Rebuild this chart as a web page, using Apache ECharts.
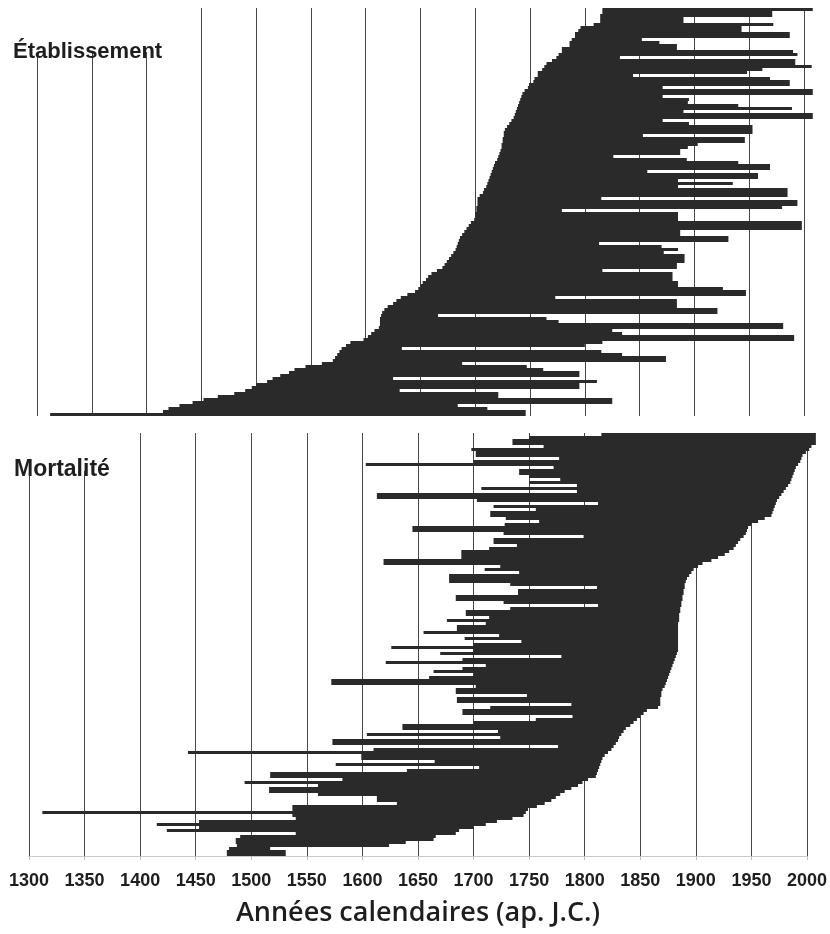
<!DOCTYPE html>
<html><head><meta charset="utf-8">
<script src="https://cdn.jsdelivr.net/npm/echarts@6/dist/echarts.min.js"></script>
<style>html,body{margin:0;padding:0;background:#fff}#c{width:830px;height:934px}</style>
</head><body><div id="c"></div>
<script>
// Tick labels (years)
const yearTicks = [1300,1350,1400,1450,1500,1550,1600,1650,1700,1750,1800,1850,1900,1950,2000];
const panelTitles = ['Établissement', 'Mortalité'];
const axisTitle = 'Années calendaires (ap. J.C.)';

// Établissement panel: one row per tree, top to bottom (sorted by establishment year)
const estStart = [
1816,1816,1814,1814,1814,1808,1796,1794,1791,1791,
1788,1786,1786,1779,1779,1776,1774,1770,1765,1763,
1761,1757,1757,1754,1753,1749,1748,1745,1743,1742,
1741,1740,1739,1738,1737,1736,1735,1733,1731,1729,
1727,1726,1726,1725,1725,1724,1724,1723,1722,1721,
1720,1718,1717,1716,1715,1714,1713,1712,1711,1710,
1708,1707,1704,1702,1702,1702,1701,1701,1700,1700,
1699,1696,1694,1692,1690,1688,1686,1685,1684,1683,
1682,1680,1678,1676,1674,1672,1670,1665,1660,1657,
1655,1652,1650,1648,1645,1638,1632,1628,1625,1620,
1617,1615,1614,1613,1613,1613,1612,1608,1605,1602,
1598,1586,1582,1578,1576,1574,1572,1570,1560,1545,
1535,1530,1522,1515,1510,1500,1496,1490,1480,1465,
1452,1442,1430,1420,1415,1312];
const estEnd = [
2008,1971,1971,1890,1890,1972,1943,1943,1987,1987,
1852,1868,1884,1884,1990,1994,1832,1992,1992,2007,
1962,1948,1844,1969,1987,1987,1871,2008,2008,1871,
1895,1894,1940,1989,1890,2008,2008,1871,1895,1953,
1953,1953,1853,1946,1946,1903,1894,1887,1887,1826,
1893,1940,1969,1969,1857,1958,1958,1885,1935,1885,
1985,1985,1985,1815,1994,1994,1980,1779,1885,1885,
1885,1998,1998,1998,1887,1887,1931,1931,1813,1870,
1885,1872,1891,1891,1891,1884,1884,1816,1880,1880,
1880,1885,1885,1926,1947,1947,1773,1884,1884,1884,
1921,1921,1666,1765,1776,1981,1981,1825,1834,1991,
1991,1816,1800,1633,1815,1834,1874,1874,1688,1747,
1762,1795,1795,1625,1811,1795,1795,1631,1721,1721,
1825,1825,1684,1711,1746,1746];

// Mortalité panel: one row per tree, top to bottom (sorted by death year)
const morStart = [
1815,1750,1735,1735,1763,1698,1702,1702,1777,1700,
1603,1772,1741,1741,1750,1778,1750,1793,1707,1793,
1613,1613,1703,1812,1718,1756,1715,1715,1729,1759,
1728,1645,1645,1727,1799,1718,1718,1739,1714,1689,
1689,1689,1619,1619,1724,1710,1741,1678,1678,1678,
1733,1811,1740,1740,1684,1684,1727,1812,1733,1693,
1693,1714,1676,1711,1685,1685,1655,1723,1692,1743,
1700,1626,1700,1670,1779,1690,1621,1711,1690,1664,
1700,1660,1572,1572,1702,1684,1684,1748,1685,1685,
1788,1715,1690,1690,1789,1756,1700,1636,1636,1722,
1604,1724,1573,1573,1776,1610,1443,1599,1599,1665,
1576,1705,1640,1517,1517,1582,1494,1560,1516,1516,
1560,1613,1613,1631,1537,1537,1312,1537,1540,1453,
1415,1453,1424,1540,1490,1486,1486,1487,1480,1478,
1478];
const morEnd = [
2008,2008,2008,2008,2004,2002,1999,1996,1995,1994,
1992,1990,1989,1988,1987,1986,1985,1983,1981,1979,
1977,1975,1973,1972,1971,1970,1969,1968,1962,1956,
1950,1947,1946,1945,1943,1940,1938,1936,1934,1930,
1926,1920,1914,1906,1902,1898,1896,1894,1892,1891,
1890,1890,1889,1889,1888,1888,1887,1887,1886,1886,
1885,1885,1885,1884,1884,1884,1884,1884,1884,1884,
1884,1884,1884,1883,1882,1881,1880,1879,1878,1877,
1876,1875,1874,1873,1872,1870,1869,1869,1868,1868,
1868,1866,1856,1853,1850,1847,1844,1841,1837,1835,
1833,1831,1830,1828,1826,1824,1821,1818,1816,1815,
1814,1813,1812,1811,1810,1803,1798,1794,1788,1782,
1778,1774,1770,1764,1757,1749,1747,1745,1735,1721,
1711,1700,1687,1684,1666,1664,1639,1624,1517,1531,
1531];

const BAR = '#2a2a2a';
const GRIDC = '#474747';
const rows = n => Array.from({length: n}, (_, i) => i);
const spans = (s, e) => s.map((v, i) => e[i] - v);

const chart = echarts.init(document.getElementById('c'), null, {renderer: 'canvas'});

function xAx(gi, bottom) {
  return {
    gridIndex: gi, type: 'value', min: yearTicks[0], max: yearTicks[yearTicks.length - 1],
    interval: yearTicks[1] - yearTicks[0],
    axisLine: {show: bottom, lineStyle: {color: '#c8c8c8', width: 1}},
    axisTick: {show: bottom, length: 4, lineStyle: {color: '#bdbdbd'}},
    axisLabel: {show: bottom, margin: 16, color: '#1e1e1e',
      fontFamily: '"Liberation Sans Narrow", "Liberation Sans"',
      fontWeight: 'bold', fontSize: 18,
      formatter: v => yearTicks.indexOf(v) >= 0 ? String(v) : ''},
    splitLine: {show: true, lineStyle: {color: GRIDC, width: 1}},
    name: bottom ? axisTitle : '', nameLocation: 'middle', nameGap: 44,
    nameTextStyle: {fontFamily: 'Open Sans', fontWeight: 600, fontSize: 27, color: '#1e1e1e'}
  };
}
function yAx(gi, n) {
  return {gridIndex: gi, type: 'category', data: rows(n), inverse: true, show: false};
}
function pair(gi, s, e, key) {
  return [
    {type: 'bar', xAxisIndex: gi, yAxisIndex: gi, stack: key, data: s, silent: true,
     barCategoryGap: '0%', itemStyle: {color: 'rgba(0,0,0,0)'}},
    {type: 'bar', xAxisIndex: gi, yAxisIndex: gi, stack: key, data: spans(s, e), silent: true,
     barCategoryGap: '0%', clip: false, itemStyle: {color: BAR}}
  ];
}

chart.setOption({
  animation: false,
  backgroundColor: '#fff',
  grid: [
    {left: 37, right: 26, top: 8, height: 408},
    {left: 29, right: 21, top: 433, height: 423}
  ],
  xAxis: [xAx(0, false), xAx(1, true)],
  yAxis: [yAx(0, estStart.length), yAx(1, morStart.length)],
  series: [].concat(pair(0, estStart, estEnd, 'e'), pair(1, morStart, morEnd, 'm')),
  graphic: [
    {type: 'rect', z: 100, shape: {x: 0, y: 0, width: 185, height: 52}, style: {fill: '#fff'}},
    {type: 'text', z: 101, style: {text: panelTitles[0], x: 13, y: 41, fill: '#1e1e1e',
      font: 'bold 22px "Liberation Sans"', verticalAlign: 'alphabetic'}},
    {type: 'rect', z: 100, shape: {x: 0, y: 425, width: 124, height: 46}, style: {fill: '#fff'}},
    {type: 'text', z: 101, style: {text: panelTitles[1], x: 14, y: 458, fill: '#1e1e1e',
      font: 'bold 23px "Liberation Sans"', verticalAlign: 'alphabetic'}}
  ]
});
</script></body></html>
